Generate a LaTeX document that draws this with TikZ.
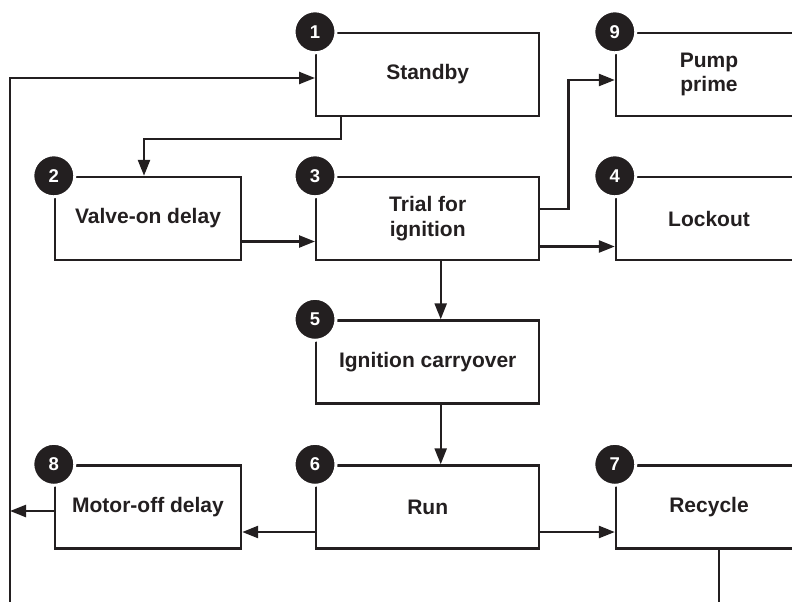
\documentclass[tikz,border=0pt]{standalone}
\usepackage{fontspec}
\setmainfont{Liberation Sans}
\usetikzlibrary{arrows.meta}
\definecolor{ink}{HTML}{231F20}
\tikzset{
  stage/.style={draw=ink, line width=2.4pt, minimum height=83pt, inner sep=0pt,
    align=center, text=ink, font=\bfseries\fontsize{21}{24.5}\selectfont},
  wide/.style={stage, minimum width=223pt},
  narrow/.style={stage, minimum width=186pt},
  badge/.style={circle, fill=ink, draw=white, line width=3pt, minimum size=42pt,
    inner sep=0pt, text=white, font=\bfseries\fontsize{18.5}{18.5}\selectfont},
  flow/.style={draw=ink, line width=2.4pt, -{Triangle[length=16pt,width=12pt]}},
  wire/.style={draw=ink, line width=2.4pt}
}

\begin{document}
\begin{tikzpicture}[x=1pt, y=-1pt]
  \useasboundingbox (0,0) rectangle (792,602);
  \clip (0,0) rectangle (792,602);
  % stages
  \node[wide]   (standby) at (427.7,74.5) {Standby};
  \node[narrow] (pump)    at (709,74.5)   {Pump\\prime};
  \node[narrow] (valve)   at (148,218.5)  {Valve-on delay};
  \node[wide]   (trial)   at (427.7,218.5) {Trial for\\ignition};
  \node[narrow] (lockout) at (709,218.5)  {Lockout};
  \node[wide]   (carry)   at (427.7,362)  {Ignition carryover};
  \node[narrow] (motor)   at (148,507)    {Motor-off delay};
  \node[wide]   (run)     at (427.7,507)  {Run};
  \node[narrow] (recycle) at (709,507)    {Recycle};
  % numbers
  \node[badge] (n1) at (standby.north west) {1};
  \node[badge] (n2) at (valve.north west)   {2};
  \node[badge] (n3) at (trial.north west)   {3};
  \node[badge] (n4) at (lockout.north west) {4};
  \node[badge] (n5) at (carry.north west)   {5};
  \node[badge] (n6) at (run.north west)     {6};
  \node[badge] (n7) at (recycle.north west) {7};
  \node[badge] (n8) at (motor.north west)   {8};
  \node[badge] (n9) at (pump.north west)    {9};
  % flow
  \coordinate (loop foot) at (10,610);
  \draw[flow] (loop foot) |- ([yshift=-3.5pt]standby.west);
  \draw[flow] ([xshift=-86.7pt]standby.south) -- ++(0,-22pt) -| ([xshift=-4pt]valve.north);
  \draw[flow] ([yshift=-23pt]valve.east) -- ([yshift=-23pt]trial.west);
  \draw[flow] ([yshift=9.5pt]trial.east) -- ++(28pt,0) |- ([yshift=-5.5pt]pump.west);
  \draw[flow] ([yshift=-28pt]trial.east) -- ([yshift=-28pt]lockout.west);
  \draw[flow] ([xshift=13pt]trial.south) -- ([xshift=13pt]carry.north);
  \draw[flow] ([xshift=13pt]carry.south) -- ([xshift=13pt]run.north);
  \draw[flow] ([yshift=-25pt]run.west) -- ([yshift=-25pt]motor.east);
  \draw[flow] ([yshift=-25pt]run.east) -- ([yshift=-25pt]recycle.west);
  \draw[flow] ([yshift=-4pt]motor.west) -- ([yshift=-4pt]motor.west -| loop foot);
  \draw[wire] ([xshift=10pt]recycle.south) -- ++(0,-60pt);
\end{tikzpicture}
\end{document}
